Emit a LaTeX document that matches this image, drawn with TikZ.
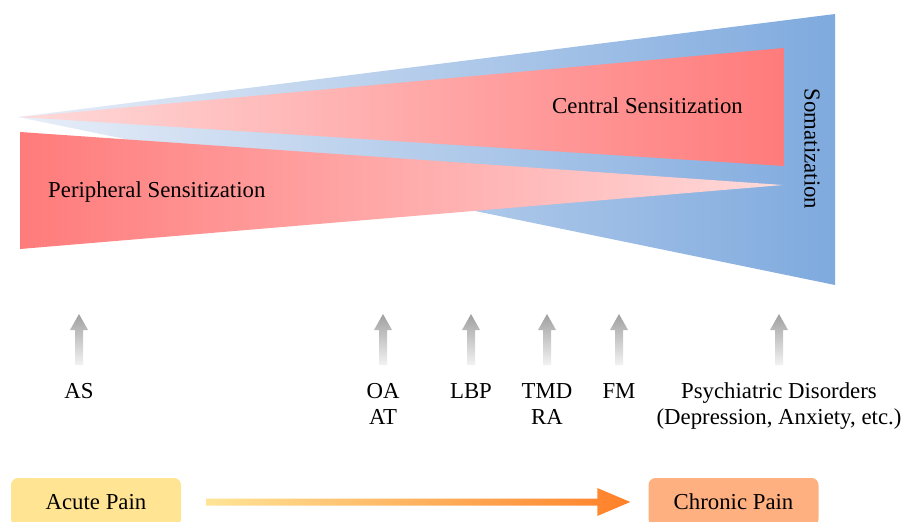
\documentclass[tikz,border=0pt]{standalone}
\usepackage{fontspec}
\setmainfont{Liberation Serif}
\usetikzlibrary{positioning,calc}

\definecolor{blueL}{RGB}{232,238,248}
\definecolor{blueM}{RGB}{186,206,234}
\definecolor{blueR}{RGB}{127,170,222}
\definecolor{redL}{RGB}{255,218,218}
\definecolor{redM}{RGB}{255,162,162}
\definecolor{redR}{RGB}{255,123,123}
\definecolor{arrowtop}{RGB}{160,160,160}
\definecolor{arrowbot}{RGB}{242,242,242}
\definecolor{acutefill}{RGB}{255,228,148}
\definecolor{chronicfill}{RGB}{255,176,128}
\definecolor{flowL}{RGB}{255,228,150}
\definecolor{flowR}{RGB}{255,128,40}

\tikzset{
  lbl/.style={font=\fontsize{22.8}{26}\selectfont, align=center, inner sep=0pt},
  painbox/.style={lbl, rounded corners=7pt, minimum width=170pt, minimum height=48pt}
}

\begin{document}
\begin{tikzpicture}[x=1pt,y=-1pt]
  \useasboundingbox (0,0) rectangle (905,522);
  \clip (0,0) rectangle (905,522);
  % wedges
  \shade[left color=blueL, middle color=blueM, right color=blueR]
    (18,117) -- (835,14) -- (835,285) -- cycle;
  \shade[left color=redL, middle color=redM, right color=redR]
    (20,117) -- (784,48) -- (784,166) -- cycle;
  \shade[left color=redR, middle color=redM!80!redL, right color=redL]
    (20,132) -- (783,185) -- (20,249) -- cycle;
  \node[lbl, anchor=base west] (peri) at (48,197) {Peripheral Sensitization};
  \node[lbl, anchor=base west] (central) at (552,113) {Central Sensitization};
  \node[lbl, rotate=-90] (soma) at (812,149) {Somatization};
  % conditions (x, baseline of last line)
  \foreach \x/\y/\name/\txt in {79/398/as/AS, 383/424/oa/{OA\\AT}, 471/398/lbp/LBP,
      547/424/tmd/{TMD\\RA}, 619/398/fm/FM,
      779/424/psy/{Psychiatric Disorders\\(Depression, Anxiety, etc.)}} {
    \node[lbl, anchor=base] (\name) at (\x,\y) {\txt};
    \shade[top color=arrowtop, bottom color=arrowbot]
      (\x,314) -- (\x+9,330) -- (\x+4,330) -- (\x+4,365)
      -- (\x-4,365) -- (\x-4,330) -- (\x-9,330) -- cycle;
  }
  % acute -> chronic
  \node[painbox, fill=acutefill] (acute) at (96,502) {Acute Pain};
  \node[painbox, fill=chronicfill] (chronic) at (733.5,502) {Chronic Pain};
  \shade[left color=flowL, right color=flowR]
    ($(acute.east)+(25,-3.5)$) -- ($(chronic.west)+(-51,-3.5)$)
    -- ($(chronic.west)+(-51,-14)$) -- ($(chronic.west)+(-18,0)$)
    -- ($(chronic.west)+(-51,14)$) -- ($(chronic.west)+(-51,3.5)$)
    -- ($(acute.east)+(25,3.5)$) -- cycle;
\end{tikzpicture}
\end{document}
